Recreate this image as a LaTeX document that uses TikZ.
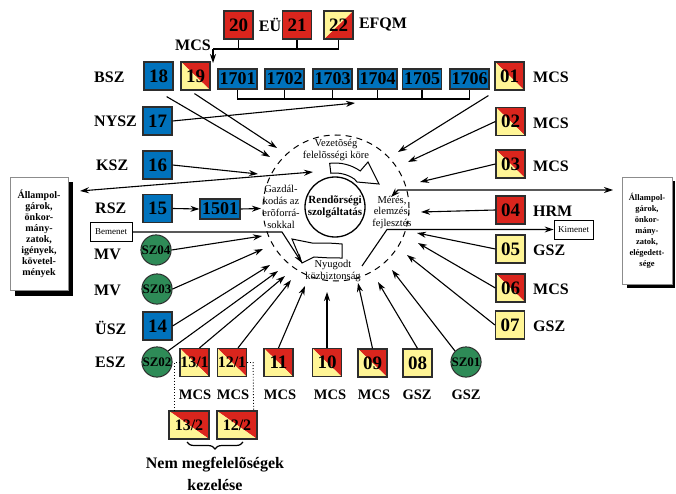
\documentclass[tikz,border=0pt]{standalone}
\usepackage{fontspec}
\setmainfont{Liberation Serif}
\usetikzlibrary{arrows.meta,calc,decorations.pathreplacing}
\definecolor{cblue}{RGB}{0,114,188}
\definecolor{cred}{RGB}{218,37,29}
\definecolor{cyel}{RGB}{255,245,150}
\definecolor{cgreen}{RGB}{46,139,87}
\definecolor{cbord}{RGB}{45,45,45}
\begin{document}
\begin{tikzpicture}[x=1pt,y=-1pt,
  box/.style={draw=cbord,line width=1.2pt,inner sep=0pt,minimum width=29pt,minimum height=28pt,font=\fontsize{19}{19}\selectfont\bfseries},
  bluebox/.style={box,fill=cblue},
  redbox/.style={box,fill=cred},
  yelbox/.style={box,fill=cyel},
  splitbox/.style={box,path picture={
     \fill[cred] (path picture bounding box.north west) -- (path picture bounding box.north east) -- (path picture bounding box.south east) -- cycle;
     \fill[cyel] (path picture bounding box.north west) -- (path picture bounding box.south west) -- (path picture bounding box.south east) -- cycle;}},
  splitboxb/.style={box,path picture={
     \fill[cred] (path picture bounding box.north east) -- (path picture bounding box.south east) -- (path picture bounding box.south west) -- cycle;
     \fill[cyel] (path picture bounding box.north west) -- (path picture bounding box.north east) -- (path picture bounding box.south west) -- cycle;}},
  wide/.style={minimum width=39pt,minimum height=20pt,font=\fontsize{18}{18}\selectfont\bfseries},
  frac/.style={font=\fontsize{16}{16}\selectfont\bfseries},
  greenc/.style={circle,draw=cbord,line width=1pt,fill=cgreen,minimum size=30pt,inner sep=0pt,font=\fontsize{13}{13}\selectfont\bfseries},
  lab/.style={inner sep=0pt,font=\fontsize{16}{16}\selectfont\bfseries},
  blab/.style={inner sep=0pt,font=\fontsize{14.5}{14.5}\selectfont\bfseries},
  small/.style={inner sep=0pt,align=center,font=\fontsize{10.5}{11.5}\selectfont},
  ln/.style={line width=1.1pt},
  arr/.style={line width=1.1pt,-{Stealth[length=9pt,width=6pt]}},
  darr/.style={line width=1.1pt,{Stealth[length=9pt,width=6pt]}-{Stealth[length=9pt,width=6pt]}},
]
\useasboundingbox (0,0) rectangle (676,494);

% --- big side boxes
\fill[black] (15,182) rectangle (73,296);
\node[draw=black!45,line width=0.5pt,fill=white,minimum width=58pt,minimum height=113pt,inner sep=0pt,align=center,font=\fontsize{10}{11}\selectfont\bfseries] (lbox) at (39,233.5) {Állampol-\\gárok,\\önkor-\\mány-\\zatok,\\igények,\\követel-\\mények};
\fill[black] (627,181) rectangle (675,288);
\node[draw=black!45,line width=0.5pt,fill=white,minimum width=50pt,minimum height=107pt,inner sep=0pt,align=center,font=\fontsize{8.5}{11}\selectfont\bfseries] (rbox) at (647,230.5) {Állampol-\\gárok,\\önkor-\\mány-\\zatok,\\elégedett-\\sége};

% --- circles
\node[circle,draw,dash pattern=on 6pt off 5pt,line width=1pt,minimum size=146pt,inner sep=0pt] (dc) at (336,208) {};
\node[circle,draw,line width=1.3pt,minimum size=60pt,inner sep=0pt] (inner) at (335,207) {};
\node[inner sep=0pt,align=center,font=\fontsize{11}{12.5}\selectfont\bfseries] (trend) at (inner.center) {Rendõrségi\\szolgáltatás};
\coordinate (cc) at (335,207);

% hollow curved arrows
\filldraw[fill=white,draw=black,line width=1pt] ($(cc)+(97:44pt)$) arc[start angle=97,end angle=55,radius=44pt] -- (368,162) -- (379,184) -- (357,182) -- ($(cc)+(55:34pt)$) arc[start angle=55,end angle=97,radius=34pt] -- cycle;
\filldraw[fill=white,draw=black,line width=1pt] (342,244) .. controls (330,243) .. (312,243) -- (292,239) -- (302,263) -- (314,257) .. controls (330,258) .. (342,258) -- cycle;

\node[small] (tvez) at (336,150) {Vezetõség\\felelõsségi köre};
\node[small,font=\fontsize{10.5}{12}\selectfont] (tgaz) at (281,206.5) {Gazdál-\\kodás az\\erõforrá-\\sokkal};
\node[small,font=\fontsize{10.5}{11.5}\selectfont] (tmer) at (392,212) {Mérés,\\elemzés,\\fejlesztés};
\node[small] (tnyu) at (333,271) {Nyugodt\\közbiztonság};

% --- top boxes
\node[redbox] (n20) at (238.5,25) {20};
\node[lab] (leu) at (270,25) {EÜ};
\node[redbox] (n21) at (297,25) {21};
\node[splitboxb] (n22) at (338.5,25) {22};
\node[lab] (lefqm) at (383,25) {EFQM};
\node[lab] (lmcs19) at (193,45) {MCS};

\node[bluebox] (n18) at (158.5,76) {18};
\node[splitbox] (n19) at (195.5,76) {19};
\node[bluebox,wide] (n1701) at (237.5,79) {1701};
\node[bluebox,wide] (n1702) at (284.5,79) {1702};
\node[bluebox,wide] (n1703) at (332.5,79) {1703};
\node[bluebox,wide] (n1704) at (377.5,79) {1704};
\node[bluebox,wide] (n1705) at (422,79) {1705};
\node[bluebox,wide] (n1706) at (469.5,79) {1706};

% --- left column
\node[lab,anchor=west] (lbsz) at (94,77) {BSZ};
\node[bluebox] (n17) at (157.5,121) {17};
\node[lab,anchor=west] (lnysz) at (94,121) {NYSZ};
\node[bluebox] (n16) at (157.5,165) {16};
\node[lab,anchor=west] (lksz) at (96,165) {KSZ};
\node[bluebox] (n15) at (157.5,208.5) {15};
\node[lab,anchor=west] (lrsz) at (95,208.5) {RSZ};
\node[bluebox,wide,minimum width=40pt] (n1501) at (220,209) {1501};
\node[draw=black,line width=0.8pt,fill=white,minimum width=42pt,minimum height=19pt,inner sep=0pt,font=\fontsize{9}{9}\selectfont] (bem) at (111,232) {Bemenet};
\node[greenc] (s04) at (156,250) {SZ04};
\node[lab,anchor=west] (lmv1) at (94,254) {MV};
\node[greenc] (s03) at (157,289) {SZ03};
\node[lab,anchor=west] (lmv2) at (94,290) {MV};
\node[bluebox] (n14) at (157.5,326) {14};
\node[lab,anchor=west] (lusz) at (95,328) {ÜSZ};
\node[greenc] (s02) at (157,362) {SZ02};
\node[lab,anchor=west] (lesz) at (95,362) {ESZ};

% --- bottom row
\node[splitbox,frac] (n131) at (194.5,362.5) {13/1};
\node[splitbox,frac] (n121) at (232,362.5) {12/1};
\node[splitbox] (n11) at (278.5,362.5) {11};
\node[splitbox] (n10) at (327,362.5) {10};
\node[splitbox] (n09) at (372.5,363) {09};
\node[yelbox] (n08) at (417.5,363) {08};
\node[greenc] (s01) at (466,362) {SZ01};
\node[blab] (lb1) at (195,395) {MCS};
\node[blab] (lb2) at (233,395) {MCS};
\node[blab] (lb3) at (280,395) {MCS};
\node[blab] (lb4) at (330,395) {MCS};
\node[blab] (lb5) at (374,395) {MCS};
\node[blab] (lb6) at (417,395) {GSZ};
\node[blab] (lb7) at (466,395) {GSZ};
\node[splitbox,frac,minimum width=40pt] (n132) at (189,425) {13/2};
\node[splitbox,frac,minimum width=40pt] (n122) at (237,425) {12/2};
\node[lab] (tnem) at (215,465) {Nem megfelelõségek};
\node[lab] (tkez) at (215,485) {kezelése};
\draw[line width=1.2pt,decorate,decoration={brace,amplitude=7pt,mirror}] (187,442) -- (243,442);
\draw[line width=0.9pt,dotted] (n131.west) -- ++(-5,0) -- ($(n132.north west)+(6,0)$);
\draw[line width=0.9pt,dotted] (n121.east) -- ++(6,0) -- ($(n122.north east)+(-4,0)$);

% --- right column
\node[splitbox] (n01) at (509.5,76) {01};
\node[lab,anchor=west] (lr1) at (533,77) {MCS};
\node[splitbox] (n02) at (510.5,121.5) {02};
\node[lab,anchor=west] (lr2) at (533,123) {MCS};
\node[splitbox] (n03) at (510.5,164) {03};
\node[lab,anchor=west] (lr3) at (533,166) {MCS};
\node[redbox] (n04) at (510.5,210) {04};
\node[lab,anchor=west] (lr4) at (533,211) {HRM};
\node[yelbox] (n05) at (510.5,249) {05};
\node[lab,anchor=west] (lr5) at (533,250) {GSZ};
\node[splitbox] (n06) at (510.5,288) {06};
\node[lab,anchor=west] (lr6) at (533,289) {MCS};
\node[yelbox] (n07) at (510,325) {07};
\node[lab,anchor=west] (lr7) at (533,326) {GSZ};
\node[draw=black,line width=0.8pt,fill=white,minimum width=39pt,minimum height=19pt,inner sep=0pt,font=\fontsize{9}{9}\selectfont] (kim) at (573.5,229.5) {Kimenet};

% --- brackets
\coordinate (tb) at (213,49);
\coordinate (tbe) at (213,63);
\draw[ln] (n20.south) -- (n20.south|-tb);
\draw[ln] (n21.south) -- (n21.south|-tb);
\draw[ln] (n22.south) -- (n22.south|-tb) -- (tb);
\draw[arr] (tb) -- (tbe);
\coordinate (bb) at (0,99);
\draw[ln] (n1701.south) -- (n1701.south|-bb) -- (n1706.south|-bb) -- (n1706.south);
\foreach \n in {1702,1703,1704,1705} \draw[ln] (n\n.south) -- (n\n.south|-bb);

% --- arrow targets
\coordinate (t18) at (270,157);
\coordinate (t19) at (277,148);
\coordinate (t17) at (355,103);
\coordinate (t16) at (258,174);
\coordinate (tl1) at (80,191);
\coordinate (tl2) at (313,172);
\coordinate (t1501) at (261,208.5);
\coordinate (bm1) at (282,232);
\coordinate (tbm) at (302,263);
\coordinate (ts04) at (262,236);
\coordinate (ts03) at (263,249);
\coordinate (t14) at (270,265);
\coordinate (ts02) at (278,271);
\coordinate (t131) at (285,276);
\coordinate (t121) at (291,280);
\coordinate (t11) at (305,286);
\coordinate (t10) at (327,292);
\coordinate (t09) at (358,283);
\coordinate (t08) at (378,282);
\coordinate (ts01) at (392,270);
\coordinate (t07) at (407,255);
\coordinate (t06) at (418,243);
\coordinate (t05) at (417,233);
\coordinate (t04) at (421,212);
\coordinate (t03) at (420,182);
\coordinate (t02) at (408,162);
\coordinate (t01) at (398,152);
\coordinate (tr1) at (391,197);
\coordinate (tr1b) at (398,190);
\coordinate (tr2) at (613,190);
\coordinate (km1) at (362,266);
\coordinate (km2) at (387,229.5);

% --- arrows
\draw[arr] ($(n18.south east)+(-7,6)$) -- (t18);
\draw[arr] ($(n19.south)+(-1,3)$) -- (t19);
\draw[arr] (n17.east) -- (t17);
\draw[arr] (n16.east) -- (t16);
\draw[darr] (tl1) -- (tl2);
\draw[arr] (n15.east) -- (n1501.west);
\draw[arr] (n1501.east) -- (t1501);
\draw[arr] (bem.east) -- (bm1) -- (tbm);
\draw[arr] (s04.east) -- (ts04);
\draw[arr] (s03.east) -- (ts03);
\draw[arr] (n14.east) -- (t14);
\draw[arr] (s02.north east) -- (ts02);
\draw[arr] ($(n131.north)+(5,0)$) -- (t131);
\draw[arr] ($(n121.north)+(6,0)$) -- (t121);
\draw[arr] (n11.north) -- (t11);
\draw[arr] (n10.north) -- (t10);
\draw[arr] (n09.north) -- (t09);
\draw[arr] (n08.north) -- (t08);
\draw[arr] (s01.north west) -- (ts01);
\draw[arr] (n07.west) -- (t07);
\draw[arr] (n06.west) -- (t06);
\draw[arr] (n05.west) -- (t05);
\draw[arr] (n04.west) -- (t04);
\draw[arr] (n03.west) -- (t03);
\draw[arr] (n02.west) -- (t02);
\draw[arr] ($(n01.south west)+(-6,5)$) -- (t01);
\draw[darr] (tr1) -- (tr1b) -- (tr2);
\draw[arr] (km1) -- (km2) -- (kim.west);
\end{tikzpicture}
\end{document}
